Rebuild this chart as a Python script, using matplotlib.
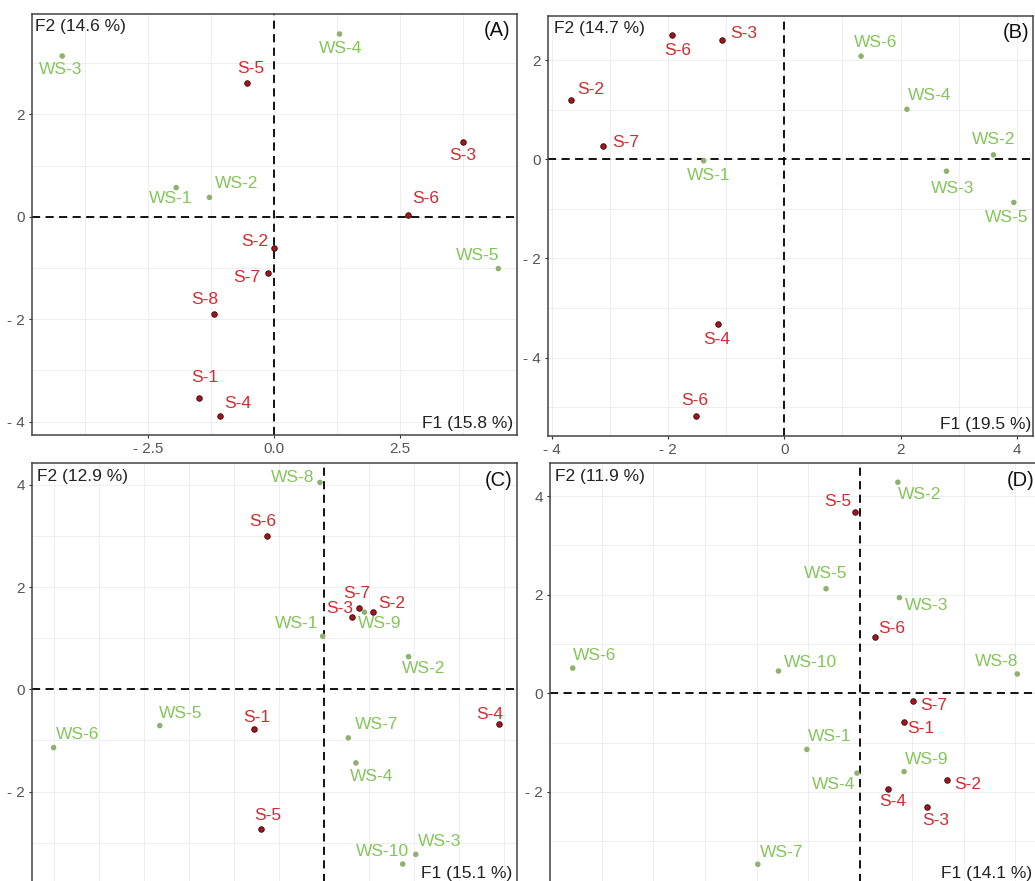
import numpy as np
import matplotlib.pyplot as plt
from matplotlib.ticker import MultipleLocator, FuncFormatter

plt.rcParams['font.family'] = ['Liberation Sans', 'DejaVu Sans']

# ---- panel A ----
a_names = ['WS-1', 'WS-2', 'WS-3', 'WS-4', 'WS-5',
           'S-1', 'S-2', 'S-3', 'S-4', 'S-5', 'S-6', 'S-7', 'S-8']
a_f1 = [-1.94, -1.28, -4.20, 1.30, 4.45,
        -1.48, 0.00, 3.75, -1.07, -0.54, 2.65, -0.11, -1.19]
a_f2 = [0.57, 0.38, 3.14, 3.57, -1.01,
        -3.54, -0.61, 1.47, -3.89, 2.62, 0.03, -1.10, -1.89]
a_var = ('F2 (14.6 %)', 'F1 (15.8 %)')

# ---- panel B ----
b_names = ['WS-1', 'WS-2', 'WS-3', 'WS-4', 'WS-5', 'WS-6',
           'S-6', 'S-3', 'S-2', 'S-7', 'S-4', 'S-6']
b_f1 = [-1.39, 3.60, 2.79, 2.11, 3.95, 1.32,
        -1.93, -1.07, -3.68, -3.12, -1.15, -1.52]
b_f2 = [-0.03, 0.09, -0.24, 1.01, -0.87, 2.08,
        2.50, 2.41, 1.19, 0.27, -3.33, -5.18]
b_var = ('F2 (14.7 %)', 'F1 (19.5 %)')

# ---- panel C ----
c_names = ['WS-1', 'WS-2', 'WS-3', 'WS-4', 'WS-5', 'WS-6', 'WS-7', 'WS-8', 'WS-9', 'WS-10',
           'S-1', 'S-2', 'S-3', 'S-4', 'S-5', 'S-6', 'S-7']
c_f1 = [-0.04, 1.87, 2.03, 0.70, -3.66, -6.02, 0.53, -0.10, 0.89, 1.74,
        -1.56, 1.09, 0.62, 3.87, -1.40, -1.27, 0.76]
c_f2 = [1.04, 0.64, -3.23, -1.44, -0.71, -1.14, -0.95, 4.05, 1.51, -3.42,
        -0.78, 1.51, 1.42, -0.68, -2.73, 3.01, 1.60]
c_var = ('F2 (12.9 %)', 'F1 (15.1 %)')

# ---- panel D ----
d_names = ['WS-1', 'WS-2', 'WS-3', 'WS-4', 'WS-5', 'WS-6', 'WS-7', 'WS-8', 'WS-9', 'WS-10',
           'S-1', 'S-2', 'S-3', 'S-4', 'S-5', 'S-6', 'S-7']
d_f1 = [-1.03, 0.73, 0.76, -0.06, -0.66, -5.56, -1.98, 3.04, 0.85, -1.58,
        0.85, 1.68, 1.30, 0.53, -0.10, 0.28, 1.02]
d_f2 = [-1.14, 4.28, 1.94, -1.62, 2.12, 0.51, -3.47, 0.39, -1.59, 0.45,
        -0.58, -1.77, -2.31, -1.95, 3.68, 1.14, -0.16]
d_var = ('F2 (11.9 %)', 'F1 (14.1 %)')

# label offsets in pixels (right, up), same order as the names
a_off = [(-6, -11), (27, 14), (-2, -14), (1, -15), (-21, 13),
         (5, 21), (-19, 7), (0, -14), (18, 13), (4, 14), (18, 17), (-22, -4), (-9, 14)]
b_off = [(5, -15), (0, 15), (6, -17), (23, 14), (-7, -15), (15, 14),
         (5, -15), (21, 6), (20, 11), (23, 3), (-1, -15), (-1, 16)]
c_off = [(-26, 13), (15, -12), (24, 13), (16, -14), (21, 12), (24, 13), (28, 13), (-27, 5),
         (15, -11), (-20, 13),
         (2, 12), (18, 9), (-13, 8), (-9, 10), (6, 13), (-5, 14), (-2, 14)]
d_off = [(23, 13), (22, -12), (27, -8), (-23, -11), (0, 15), (22, 13), (24, 12), (-21, 13),
         (23, 12), (32, 9),
         (17, -7), (21, -4), (8, -13), (5, -12), (-17, 10), (17, 9), (21, -4)]

W, H = 1035, 881
fig = plt.figure(figsize=(W / 100, H / 100), dpi=100)
fig.patch.set_facecolor('white')

RED_TXT, RED_PT = '#d62a30', '#9e161e'
GRN_TXT, GRN_PT = '#84c55a', '#8fb16f'


def minus_fmt(dec):
    def f(v, pos):
        s = f"{abs(v):.{dec}f}"
        return "- " + s if v < -1e-9 else s
    return FuncFormatter(f)


def panel(box, names, f1, f2, off, xlim, ylim, xmaj, xmin, xdec, var, tag, pads, xlabels=True):
    l, t, r, b = box
    ax = fig.add_axes([l / W, 1 - b / H, (r - l) / W, (b - t) / H])
    ax.set_xlim(*xlim)
    ax.set_ylim(*ylim)
    ax.xaxis.set_major_locator(MultipleLocator(xmaj))
    ax.xaxis.set_minor_locator(MultipleLocator(xmin))
    ax.yaxis.set_major_locator(MultipleLocator(2))
    ax.yaxis.set_minor_locator(MultipleLocator(1))
    ax.xaxis.set_major_formatter(minus_fmt(xdec))
    ax.yaxis.set_major_formatter(minus_fmt(0))
    ax.grid(True, which='both', color='#ececec', lw=0.6)
    ax.set_axisbelow(True)
    ax.tick_params(which='major', direction='out', length=2.2, width=0.8, color='#333333',
                   labelcolor='#555555', labelsize=11, pad=3)
    ax.tick_params(which='minor', length=0)
    if not xlabels:
        ax.tick_params(axis='x', labelbottom=False)
    for sp in ax.spines.values():
        sp.set_color('#444444')
        sp.set_linewidth(1.1)

    ax.axhline(0, color='black', lw=1.3, ls=(0, (4.5, 3)), zorder=2)
    ax.axvline(0, color='black', lw=1.3, ls=(0, (4.5, 3)), zorder=2)

    for name, x, y, (dx, dy) in zip(names, f1, f2, off):
        soil = name.startswith('S-')
        if soil:
            ax.scatter(x, y, s=16, color=RED_PT, edgecolor='#3a0808', lw=0.6, zorder=4)
        else:
            ax.scatter(x, y, s=16, color=GRN_PT, edgecolor='none', zorder=4)
        ax.annotate(name, (x, y), xytext=(dx, dy), textcoords='offset pixels',
                    ha='center', va='center', fontsize=12.5,
                    color=RED_TXT if soil else GRN_TXT, zorder=5)

    p_f2, p_tag, p_f1 = pads
    ax.annotate(var[0], (0, 1), xycoords='axes fraction', xytext=(p_f2, -13),
                textcoords='offset pixels', ha='left', va='center', fontsize=12.5, color='#222222')
    ax.annotate(tag, (1, 1), xycoords='axes fraction', xytext=(-p_tag, -17),
                textcoords='offset pixels', ha='right', va='center', fontsize=14.5, color='#111111')
    ax.annotate(var[1], (1, 0), xycoords='axes fraction', xytext=(-p_f1, 12),
                textcoords='offset pixels', ha='right', va='center', fontsize=12.5, color='#222222')
    return ax


panel((32, 14, 517, 435), a_names, a_f1, a_f2, a_off,
      (-4.80, 4.82), (-4.26, 3.96), 2.5, 1.25, 1, a_var, '(A)', (3, 7, 4))
panel((548, 16, 1033, 436), b_names, b_f1, b_f2, b_off,
      (-4.07, 4.28), (-5.58, 2.89), 2, 1, 0, b_var, '(B)', (6, 4, 2))
# lower row runs past the bottom edge, so its F1 scale is not shown
panel((32, 463, 517, 885), c_names, c_f1, c_f2, c_off,
      (-6.50, 4.28), (-3.83, 4.43), 2, 1, 0, c_var, '(C)', (5, 4, 5), xlabels=False)
panel((550, 463, 1040, 885), d_names, d_f1, d_f2, d_off,
      (-6.00, 3.48), (-3.89, 4.67), 2, 1, 0, d_var, '(D)', (5, 6, 8), xlabels=False)

fig.savefig('out.png', dpi=100, facecolor='white')
